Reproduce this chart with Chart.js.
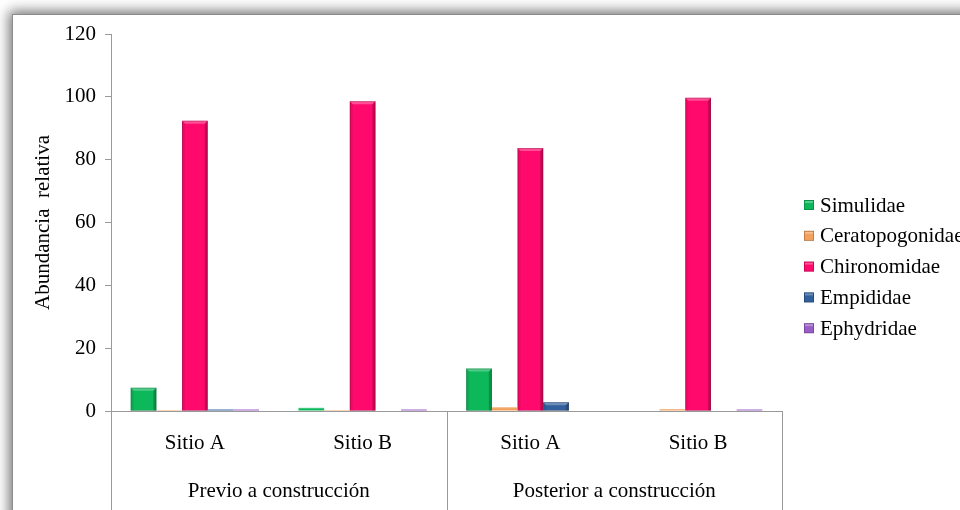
<!DOCTYPE html>
<html lang="es">
<head>
<meta charset="utf-8">
<title>Abundancia relativa por familia</title>
<script src="https://cdn.jsdelivr.net/npm/chart.js@4.4.1/dist/chart.umd.min.js"></script>
<style>
  html, body { margin: 0; padding: 0; background: #ffffff; overflow: hidden; }
  #wrap { position: relative; width: 960px; height: 510px; }
  #frame {
    position: absolute; left: 12px; top: 14px; width: 1000px; height: 600px;
    border: 1px solid #8c8c8c; background: #ffffff;
    box-shadow: 0 0 12px 3px rgba(0,0,0,0.55);
  }
  #chart { position: absolute; left: 0; top: 0; }
</style>
</head>
<body>
<div id="wrap">
  <div id="frame"></div>
  <canvas id="chart" width="960" height="510"></canvas>
</div>
<script>
// Sites sampled within each period
const sitios = ["Sitio A", "Sitio B", "Sitio A", "Sitio B"];
// Sampling periods (each spans two sites)
const periodos = ["Previo a construcción", "Posterior a construcción"];
// Y-axis range
const yTicks = [0, 20, 40, 60, 80, 100, 120];

// Relative abundance (%) per family, in the order of `sitios`
const simulidae       = [7.4, 1.0, 13.5, 0];
const ceratopogonidae = [0.3, 0.3, 1.2, 0.6];
const chironomidae    = [92.4, 98.6, 83.7, 99.7];
const empididae       = [0.5, 0, 2.8, 0];
const ephydridae      = [0.5, 0.5, 0, 0.5];

const familias = ["Simulidae", "Ceratopogonidae", "Chironomidae", "Empididae", "Ephydridae"];
const colores  = ["#0cb85a", "#f2a15c", "#ff0a6c", "#31609c", "#9a5cc6"];

const FONT = '"Liberation Serif", "Times New Roman", serif';
const FSIZE = 21;

// Bevel shading over each bar
const bevelPlugin = {
  id: 'bevel',
  afterDatasetsDraw(chart) {
    const ctx = chart.ctx;
    chart.data.datasets.forEach((ds, di) => {
      const meta = chart.getDatasetMeta(di);
      meta.data.forEach(bar => {
        const left = bar.x - bar.width / 2;
        const right = bar.x + bar.width / 2;
        const top = Math.min(bar.y, bar.base);
        const h = Math.abs(bar.base - bar.y);
        if (h < 0.5) return;
        ctx.save();
        if (h < 4) {
          // thin bars: just a lighter top line
          ctx.fillStyle = 'rgba(255,255,255,0.25)';
          ctx.fillRect(left, top, bar.width, Math.min(1, h / 2));
          ctx.restore();
          return;
        }
        const e = 3;
        // top facet
        ctx.fillStyle = 'rgba(255,255,255,0.28)';
        ctx.beginPath();
        ctx.moveTo(left, top); ctx.lineTo(right, top);
        ctx.lineTo(right - e, top + e); ctx.lineTo(left + e, top + e);
        ctx.closePath(); ctx.fill();
        // right facet
        ctx.fillStyle = 'rgba(0,0,0,0.22)';
        ctx.beginPath();
        ctx.moveTo(right, top); ctx.lineTo(right, top + h);
        ctx.lineTo(right - e, top + h); ctx.lineTo(right - e, top + e);
        ctx.closePath(); ctx.fill();
        // left facet
        ctx.fillStyle = 'rgba(0,0,0,0.08)';
        ctx.beginPath();
        ctx.moveTo(left, top); ctx.lineTo(left + e, top + e);
        ctx.lineTo(left + e, top + h); ctx.lineTo(left, top + h);
        ctx.closePath(); ctx.fill();
        // outline
        ctx.strokeStyle = 'rgba(0,0,0,0.22)';
        ctx.lineWidth = 0.8;
        ctx.strokeRect(left + 0.4, top + 0.4, bar.width - 0.8, h - 0.4);
        ctx.restore();
      });
    });
  }
};

// Vertical dividers under the category axis (site / period boundaries)
const dividerPlugin = {
  id: 'dividers',
  afterDraw(chart) {
    const x = chart.scales.x;
    const ctx = chart.ctx;
    const mid = (x.getPixelForValue(1) + x.getPixelForValue(2)) / 2;
    const xs = [x.left, mid, x.right];
    ctx.save();
    ctx.strokeStyle = '#9a9a9a';
    ctx.lineWidth = 1;
    xs.forEach(px => {
      const p = Math.round(px) + 0.5;
      ctx.beginPath();
      ctx.moveTo(p, chart.chartArea.bottom);
      ctx.lineTo(p, chart.height);
      ctx.stroke();
    });
    ctx.restore();
  }
};

// Legend drawn at the right of the plot
const legendPlugin = {
  id: 'sideLegend',
  afterDraw(chart) {
    const ctx = chart.ctx;
    const x0 = 804, y0 = 205, step = 30.8, box = 10;
    ctx.save();
    ctx.font = FSIZE + 'px ' + FONT;
    ctx.textBaseline = 'middle';
    chart.data.datasets.forEach((ds, i) => {
      const cy = y0 + i * step;
      ctx.fillStyle = ds.backgroundColor;
      ctx.fillRect(x0, cy - box / 2, box, box);
      ctx.fillStyle = 'rgba(255,255,255,0.3)';
      ctx.fillRect(x0 + 1, cy - box / 2 + 1, box - 2, 2);
      ctx.strokeStyle = 'rgba(0,0,0,0.25)';
      ctx.lineWidth = 0.8;
      ctx.strokeRect(x0 + 0.4, cy - box / 2 + 0.4, box - 0.8, box - 0.8);
      ctx.fillStyle = '#000';
      ctx.fillText(ds.label, x0 + 16, cy + 1);
    });
    ctx.restore();
  }
};

const datasets = [simulidae, ceratopogonidae, chironomidae, empididae, ephydridae].map((vals, i) => ({
  label: familias[i],
  data: vals,
  backgroundColor: colores[i],
  borderWidth: 0,
  categoryPercentage: 0.765,
  barPercentage: 1.0,
  xAxisID: 'x',
  yAxisID: 'y'
}));

new Chart(document.getElementById('chart'), {
  type: 'bar',
  data: { labels: sitios, datasets },
  plugins: [bevelPlugin, dividerPlugin, legendPlugin],
  options: {
    responsive: false,
    animation: false,
    devicePixelRatio: 1,
    layout: { padding: { left: 0, right: 178, top: 34, bottom: 0 } },
    plugins: { legend: { display: false }, tooltip: { enabled: false } },
    scales: {
      y: {
        min: yTicks[0],
        max: yTicks[yTicks.length - 1],
        afterBuildTicks(scale) { scale.ticks = yTicks.map(v => ({ value: v })); },
        afterFit(scale) { scale.width = 111; },
        ticks: { font: { family: FONT, size: FSIZE }, color: '#000', padding: 9 },
        grid: { drawOnChartArea: false, drawTicks: true, tickLength: 6, color: '#9a9a9a' },
        border: { display: true, color: '#9a9a9a' },
        title: {
          display: true, text: 'Abundancia  relativa',
          font: { family: FONT, size: FSIZE }, color: '#000',
          padding: { top: 31, bottom: 0 }
        }
      },
      x: {
        position: 'bottom',
        afterFit(scale) { scale.height = 49; },
        grid: { display: false, drawTicks: false },
        border: { display: true, color: '#9a9a9a' },
        ticks: { font: { family: FONT, size: FSIZE }, color: '#000', padding: 20, maxRotation: 0 }
      },
      x2: {
        type: 'category',
        position: 'bottom',
        labels: periodos,
        offset: true,
        afterFit(scale) { scale.height = 50; },
        grid: { display: false, drawTicks: false },
        border: { display: false },
        ticks: { font: { family: FONT, size: FSIZE }, color: '#000', padding: 19, maxRotation: 0 }
      }
    }
  }
});
</script>
</body>
</html>
